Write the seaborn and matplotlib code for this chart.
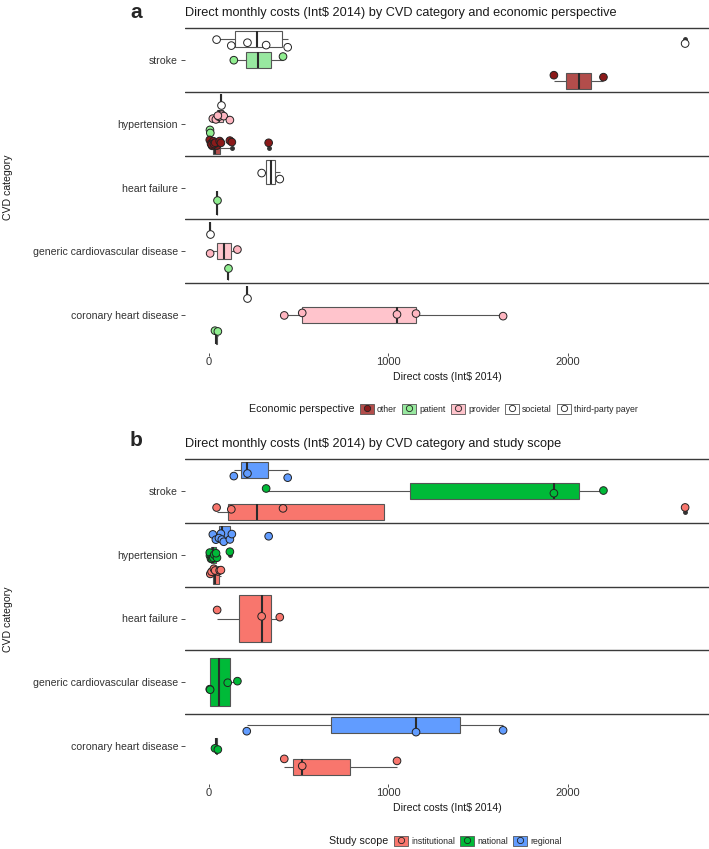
import numpy as np
import pandas as pd
import matplotlib
matplotlib.use("Agg")
import matplotlib.pyplot as plt
import seaborn as sns
from matplotlib.patches import Patch
from matplotlib.lines import Line2D

# CVD categories, top to bottom
categories = ['stroke', 'hypertension', 'heart failure',
              'generic cardiovascular disease', 'coronary heart disease']
perspective_levels = ['other', 'patient', 'provider', 'societal', 'third-party payer']
scope_levels = ['institutional', 'national', 'regional']

# monthly direct costs per study (Int$ 2014)
stroke_cost = [43, 125, 139, 215, 319, 413, 439, 1922, 2198, 2653]
stroke_persp = ['societal', 'societal', 'patient', 'societal', 'societal',
                'patient', 'societal', 'other', 'other', 'societal']
stroke_scope = ['institutional', 'institutional', 'regional', 'regional', 'national',
                'institutional', 'regional', 'national', 'national', 'institutional']

hyp_cost = [67, 22, 39, 56, 72, 83, 117, 50, 6, 8,
            5, 12, 18, 25, 30, 45, 117, 40, 15, 28, 35, 60, 67, 128, 333]
hyp_persp = ['societal'] + ['provider'] * 7 + ['patient'] * 2 + ['other'] * 15
hyp_scope = (['regional'] * 7 + ['institutional', 'national', 'institutional']
             + ['national'] * 8 + ['institutional'] * 5 + ['regional'] * 2)

hf_cost = [46, 294, 395]
hf_persp = ['patient', 'third-party payer', 'third-party payer']
hf_scope = ['institutional'] * 3

gen_cost = [5, 7, 105, 159]
gen_persp = ['societal', 'provider', 'patient', 'provider']
gen_scope = ['national'] * 4

chd_cost = [211, 420, 520, 1048, 1154, 1639, 34, 50]
chd_persp = ['societal'] + ['provider'] * 5 + ['patient'] * 2
chd_scope = ['regional'] + ['institutional'] * 3 + ['regional'] * 2 + ['national'] * 2

frames = []
for cat, cost, persp, scope in zip(
        categories,
        [stroke_cost, hyp_cost, hf_cost, gen_cost, chd_cost],
        [stroke_persp, hyp_persp, hf_persp, gen_persp, chd_persp],
        [stroke_scope, hyp_scope, hf_scope, gen_scope, chd_scope]):
    frames.append(pd.DataFrame({'category': cat, 'cost': cost,
                                'perspective': persp, 'scope': scope}))
df = pd.concat(frames, ignore_index=True)

# colours
persp_box = {'other': '#B24D4B', 'patient': '#98E8A0', 'provider': '#FFC4CC',
             'societal': '#FFFFFF', 'third-party payer': '#FFFFFF'}
persp_point = {'other': '#8B1A1A', 'patient': '#90EE90', 'provider': '#FFB6C1',
               'societal': '#FFFFFF', 'third-party payer': '#FFFFFF'}
scope_pal = {'institutional': '#F8766D', 'national': '#00BA38', 'regional': '#619CFF'}

sns.set_theme(style='white')
plt.rcParams['font.family'] = ['Liberation Sans', 'DejaVu Sans']
np.random.seed(7)

W, H = 709, 849
fig = plt.figure(figsize=(W / 100, H / 100), dpi=100)
ax_a = fig.add_axes([185 / W, 1 - 353 / H, 524 / W, 331 / H])
ax_b = fig.add_axes([185 / W, 1 - 784 / H, 524 / W, 331 / H])


def draw_panel(ax, hue_col, levels, box_pal, point_pal, title):
    for cat in categories:
        sub = df[df['category'] == cat]
        # first level at the bottom of each row, like the original
        present = [lv for lv in reversed(levels) if lv in set(sub[hue_col])]
        sns.boxplot(data=sub, x='cost', y='category', order=categories,
                    hue=hue_col, hue_order=present, palette=box_pal, saturation=1,
                    dodge=True, width=1.0, gap=0.25, linecolor='#555555',
                    linewidth=0.8, legend=False, ax=ax,
                    medianprops={'color': '#2b2b2b', 'linewidth': 1.5},
                    capprops={'linewidth': 0},
                    flierprops={'marker': 'o', 'markersize': 2.5,
                                'markerfacecolor': '#333333',
                                'markeredgecolor': '#333333'})
        sns.stripplot(data=sub, x='cost', y='category', order=categories,
                      hue=hue_col, hue_order=present, palette=point_pal,
                      dodge=True, jitter=0.2, size=5.5, linewidth=0.7,
                      edgecolor='#222222', legend=False, ax=ax)
    for i in range(len(categories)):
        ax.axhline(i - 0.5, color='#3a3a3a', linewidth=1.0, zorder=0.5)
    ax.set_ylim(len(categories) - 0.4, -0.6)
    ax.set_xlim(-133, 2786)
    ax.set_xticks([0, 1000, 2000])
    for s in ax.spines.values():
        s.set_visible(False)
    ax.tick_params(axis='x', length=2, width=0.6, color='#333333', pad=1,
                   labelsize=8, labelcolor='#333333', bottom=True)
    ax.tick_params(axis='y', length=3, width=0.6, color='#333333', pad=2,
                   labelsize=7.6, labelcolor='#333333', left=True)
    ax.set_ylabel('')
    ax.set_xlabel('Direct costs (Int$ 2014)', fontsize=7.6, color='#1a1a1a')
    ax.xaxis.set_label_coords(0.5, -0.057)
    ax.xaxis.label.set_verticalalignment('top')
    ax.set_title(title, loc='left', fontsize=9.2, pad=4, color='#1a1a1a')


def add_legend(y_px, title, levels, box_pal, point_pal, x_title, x_keys):
    y = 1 - y_px / H
    fig.text(x_title / W, y, title, fontsize=7.7, va='center', ha='left',
             color='#1a1a1a')
    handles = [(Patch(facecolor=box_pal[lv], edgecolor='#555555', linewidth=0.6),
                Line2D([], [], marker='o', linestyle='', markersize=4.5,
                       markerfacecolor=point_pal[lv], markeredgecolor='#222222',
                       markeredgewidth=0.6))
               for lv in levels]
    fig.legend(handles, levels, loc='center left', bbox_to_anchor=(x_keys / W, y),
               ncol=len(levels), frameon=False, fontsize=6.3, handlelength=1.6,
               handleheight=1.3, handletextpad=0.35, columnspacing=0.6,
               borderpad=0, borderaxespad=0)


draw_panel(ax_a, 'perspective', perspective_levels, persp_box, persp_point,
           'Direct monthly costs (Int$ 2014) by CVD category and economic perspective')
draw_panel(ax_b, 'scope', scope_levels, scope_pal, scope_pal,
           'Direct monthly costs (Int$ 2014) by CVD category and study scope')

add_legend(409, 'Economic perspective', perspective_levels, persp_box, persp_point, 249, 360)
add_legend(841, 'Study scope', scope_levels, scope_pal, scope_pal, 329, 394)

fig.text(8 / W, 1 - 187 / H, 'CVD category', rotation=90, fontsize=7.6,
         va='center', ha='center', color='#1a1a1a')
fig.text(8 / W, 1 - 619 / H, 'CVD category', rotation=90, fontsize=7.6,
         va='center', ha='center', color='#1a1a1a')
fig.text(130 / W, 1 - 12 / H, 'a', fontsize=15, fontweight='bold', va='center', ha='left')
fig.text(130 / W, 1 - 440 / H, 'b', fontsize=15, fontweight='bold', va='center', ha='left')

fig.savefig('out.png', dpi=100)
